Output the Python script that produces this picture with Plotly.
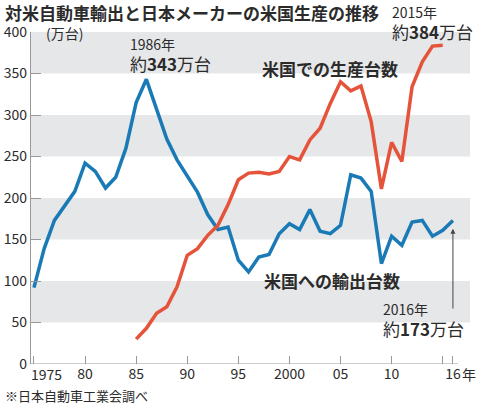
import plotly.graph_objects as go

# ---- data ----
export_years = list(range(1975, 2017))
export_vals = [92, 139, 173, 190, 208, 242, 232, 212, 225, 260, 315, 343, 308, 271, 246, 226,
               207, 180, 162, 165, 125, 111, 129, 132, 157, 169, 162, 186, 160, 157, 167, 228,
               224, 208, 121, 154, 143, 171, 173, 154, 161, 173]
prod_years = list(range(1985, 2016))
prod_vals = [30, 43, 61, 69, 93, 131, 139, 155, 167, 192, 222, 230, 231, 229, 232, 250,
             246, 270, 284, 314, 340, 329, 335, 292, 211, 267, 244, 334, 364, 383, 384]
x_tickvals = [1975, 1980, 1985, 1990, 1995, 2000, 2005, 2010, 2015, 2016]
x_ticktext = ["", "80", "85", "90", "95", "2000", "05", "10", "", "16"]
y_tickvals = [0, 50, 100, 150, 200, 250, 300, 350, 400]

FONT = "Noto Sans CJK JP"
TXT = "#2b2b2b"
BLUE = "#1a7ab6"
RED = "#e5533b"

x0, x1 = 1974.71, 2017.67

fig = go.Figure()
fig.add_trace(go.Scatter(x=export_years, y=export_vals, mode="lines",
                         line=dict(color=BLUE, width=3.5), hoverinfo="skip"))
fig.add_trace(go.Scatter(x=prod_years, y=prod_vals, mode="lines",
                         line=dict(color=RED, width=3.5), hoverinfo="skip"))

# gray bands
for lo in [50, 150, 250, 350]:
    fig.add_shape(type="rect", xref="paper", x0=0, x1=1, yref="y", y0=lo, y1=lo + 50,
                  fillcolor="#e6e7e8", line_width=0, layer="below")
# x axis line
fig.add_shape(type="line", xref="x", x0=x0, x1=2016.5, yref="y", y0=0, y1=0,
              line=dict(color="#999999", width=1.2))

anns = []
def txt(x, y, text, size, xref="x", yref="paper", xanchor="left"):
    if xref == "x" and yref == "paper":
        y = y / 400.0
    anns.append(dict(x=x, y=y, xref=xref, yref=yref, text=text, showarrow=False,
                     xanchor=xanchor, yanchor="middle",
                     font=dict(family=FONT, size=size, color=TXT)))

txt(-0.0638, 1.06, "<b>対米自動車輸出と日本メーカーの米国生産の推移</b>", 17, xref="paper")
txt(-0.0638, -0.095, "※日本自動車工業会調べ", 13, xref="paper")
txt(1976.0, 399, "(万台)", 14)
txt(1984.2, 386, "1986年", 14)
txt(1984.2, 362, "約<b>343</b>万台", 17)
txt(2009.8, 424, "2015年", 14)
txt(2009.8, 401, "約<b>384</b>万台", 17)
txt(1997.1, 356, "<b>米国での生産台数</b>", 17)
txt(1997.3, 101, "<b>米国への輸出台数</b>", 17)
txt(2009.0, 66, "2016年", 14)
txt(2009.0, 43, "約<b>173</b>万台", 17)
txt(2016, 0, "年", 14)
anns[-1].update(yshift=-10, xshift=7)
txt(1975, 0, "1975", 14)
anns[-1].update(yshift=-10, xshift=-5)

# arrow to 2016 point
anns.append(dict(x=2016, y=163, xref="x", yref="y", ax=2016, ay=65, axref="x", ayref="y",
                 text="", showarrow=True, arrowhead=2, arrowsize=1, arrowwidth=1,
                 arrowcolor="#444444"))

fig.update_layout(
    width=480, height=406,
    margin=dict(l=31, r=10, t=32, b=42),
    paper_bgcolor="white", plot_bgcolor="white",
    showlegend=False,
    annotations=anns,
    font=dict(family=FONT, size=14, color=TXT),
    xaxis=dict(range=[x0, x1], tickvals=x_tickvals, ticktext=x_ticktext,
               ticks="inside", ticklen=8, tickcolor="#999999", tickwidth=1,
               showgrid=False, zeroline=False, showline=False, automargin=False,
               ticklabelstandoff=0,
               tickfont=dict(family=FONT, size=14, color=TXT)),
    yaxis=dict(range=[0, 400], tickvals=y_tickvals,
               ticks="inside", ticklen=10, tickcolor="#999999", tickwidth=1,
               showgrid=False, zeroline=False, showline=True, linecolor="#999999", linewidth=1.2,
               automargin=False,
               tickfont=dict(family=FONT, size=14, color=TXT)),
)
fig.write_html("out.html")
